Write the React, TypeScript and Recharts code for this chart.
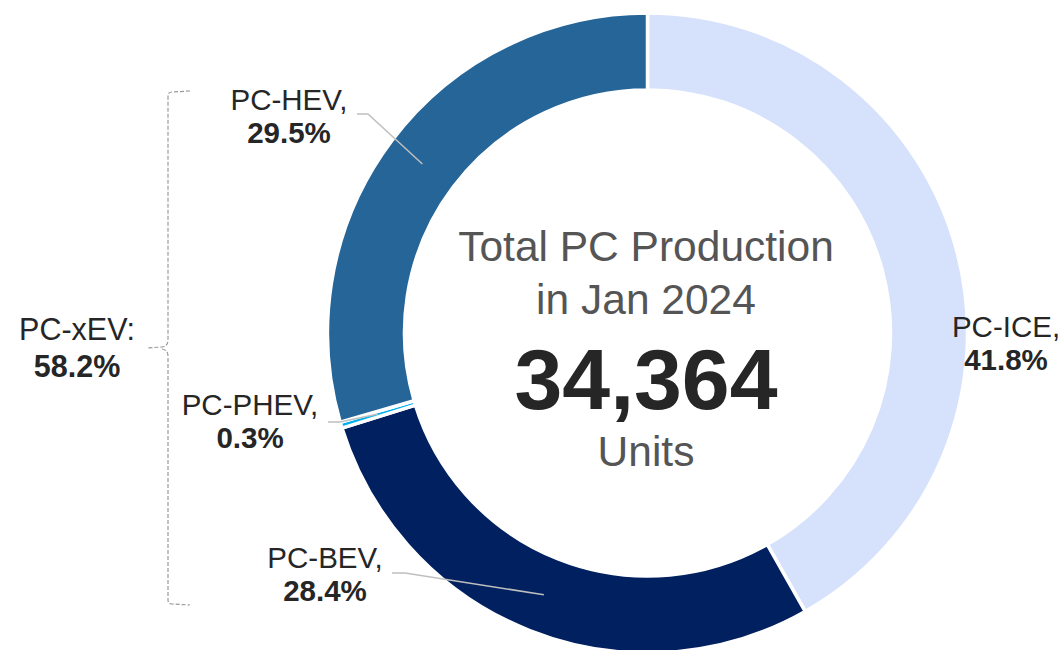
import React from 'react';
import { PieChart, Pie, Cell } from 'recharts';

const SEGMENTS = ['PC-ICE', 'PC-BEV', 'PC-PHEV', 'PC-HEV'];
const SHARES = [41.8, 28.4, 0.3, 29.5];
const COLORS = ['#D6E2FC', '#002060', '#00B0F0', '#266598'];

const GROUP_NAME = 'PC-xEV';
const GROUP_SHARE = 58.2;
const TOTAL_UNITS = '34,364';
const PERIOD = 'Jan 2024';

const FONT = '"Liberation Sans", Arial, sans-serif';
const RADIAN = Math.PI / 180;

// where each label sits (centre x, first baseline) and the elbow of its leader line
const LABEL_LAYOUT: Record<string, { x: number; y: number; elbow: number[] | null }> = {
  'PC-ICE': { x: 1006, y: 337, elbow: null },
  'PC-BEV': { x: 325, y: 568, elbow: [392, 573, 405, 573] },
  'PC-PHEV': { x: 250, y: 415, elbow: [328, 422, 340, 422] },
  'PC-HEV': { x: 289, y: 110, elbow: [357, 114, 368, 114] },
};

const data = SEGMENTS.map((name, i) => ({ name, value: SHARES[i] }));

const renderLabel = (props: any) => {
  const { cx, cy, midAngle, innerRadius, outerRadius, name, value } = props;
  const pos = LABEL_LAYOUT[name];
  if (!pos) return null;
  const r = (innerRadius + outerRadius) / 2;
  const ex = cx + Math.cos(-midAngle * RADIAN) * r;
  const ey = cy + Math.sin(-midAngle * RADIAN) * r;
  return (
    <g>
      {pos.elbow && (
        <polyline
          points={`${pos.elbow[0]},${pos.elbow[1]} ${pos.elbow[2]},${pos.elbow[3]} ${ex},${ey}`}
          fill="none"
          stroke="#BFBFBF"
          strokeWidth={1.5}
        />
      )}
      <text x={pos.x} y={pos.y} textAnchor="middle" fontFamily={FONT} fontSize={29.5} fill="#262626">
        {name},
      </text>
      <text x={pos.x} y={pos.y + 33} textAnchor="middle" fontFamily={FONT} fontSize={29.5} fontWeight="bold" fill="#262626">
        {value.toFixed(1)}%
      </text>
    </g>
  );
};

export default function App() {
  return (
    <div style={{ position: 'absolute', left: 0, top: 0, width: 1060, height: 650, background: '#fff' }}>
      <PieChart width={1060} height={650} margin={{ top: 0, right: 0, bottom: 0, left: 0 }}>
        <Pie
          data={data}
          dataKey="value"
          nameKey="name"
          cx={647.5}
          cy={333}
          innerRadius={243}
          outerRadius={320}
          startAngle={90}
          endAngle={-270}
          stroke="#ffffff"
          strokeWidth={3.5}
          label={renderLabel}
          labelLine={false}
          isAnimationActive={false}
        >
          {data.map((entry, index) => (
            <Cell key={`cell-${index}`} fill={COLORS[index % COLORS.length]} />
          ))}
        </Pie>
      </PieChart>
      <svg width={1060} height={650} style={{ position: 'absolute', left: 0, top: 0, pointerEvents: 'none' }}>
        <text x={646} y={261} textAnchor="middle" fontFamily={FONT} fontSize={42.5} fill="#555555">
          Total PC Production
        </text>
        <text x={646} y={314} textAnchor="middle" fontFamily={FONT} fontSize={42.5} fill="#555555">
          in {PERIOD}
        </text>
        <text x={646} y={409} textAnchor="middle" fontFamily={FONT} fontSize={86} fontWeight="bold" fill="#262626">
          {TOTAL_UNITS}
        </text>
        <text x={646} y={466} textAnchor="middle" fontFamily={FONT} fontSize={42.5} fill="#555555">
          Units
        </text>
        <path
          d="M190,91 L172,92 Q168,92 168,96 L168,340 Q168,346 162,347 L147,348 M162,349 Q168,350 168,356 L168,600 Q168,604 172,604 L190,605"
          fill="none"
          stroke="#9A9A9A"
          strokeWidth={1.2}
          strokeDasharray="4 2"
        />
        <text x={77} y={340} textAnchor="middle" fontFamily={FONT} fontSize={30.5} fill="#262626">
          {GROUP_NAME}:
        </text>
        <text x={77} y={377} textAnchor="middle" fontFamily={FONT} fontSize={30.5} fontWeight="bold" fill="#262626">
          {GROUP_SHARE.toFixed(1)}%
        </text>
      </svg>
    </div>
  );
}
